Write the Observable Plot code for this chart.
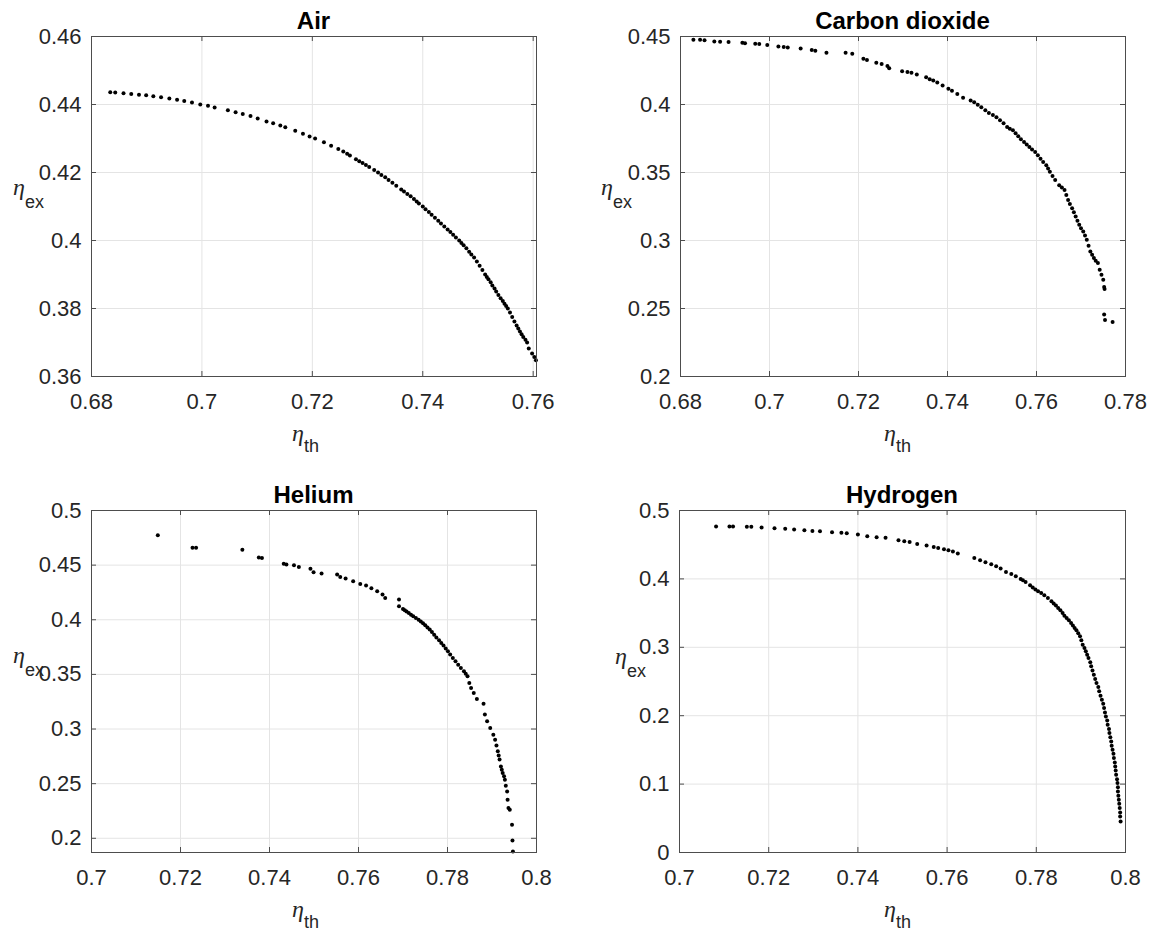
<!DOCTYPE html>
<html>
<head>
<meta charset="utf-8">
<script src="https://cdn.jsdelivr.net/npm/d3@7"></script>
<script src="https://cdn.jsdelivr.net/npm/@observablehq/plot@0.6"></script>
<style>
  body { margin: 0; background: #fff; }
  #root { position: relative; width: 1164px; height: 933px; overflow: hidden; background: #fff; }
  #root svg { position: absolute; }
</style>
</head>
<body>
<div id="root"></div>
<script>
// ---------- data (η_th, η_ex) ----------
const titles = ["Air", "Carbon dioxide", "Helium", "Hydrogen"];

const air = [[0.6834,0.4436],[0.6843,0.4435],[0.6858,0.4433],[0.6872,0.4431],[0.6886,0.4429],[0.6899,0.4427],[0.6912,0.4424],[0.6926,0.4421],[0.6941,0.4418],[0.6955,0.4414],[0.6968,0.4410],[0.6982,0.4406],[0.6997,0.4400],[0.7011,0.4396],[0.7023,0.4391],[0.7047,0.4383],[0.7061,0.4377],[0.7074,0.4372],[0.7088,0.4366],[0.7101,0.4359],[0.7117,0.4350],[0.7129,0.4345],[0.7142,0.4338],[0.7151,0.4333],[0.7169,0.4323],[0.7183,0.4314],[0.7195,0.4306],[0.7205,0.4300],[0.7221,0.4289],[0.7234,0.4279],[0.7247,0.4269],[0.7256,0.4262],[0.7268,0.4250],[0.7279,0.4239],[0.7291,0.4228],[0.7303,0.4216],[0.7312,0.4207],[0.7319,0.4200],[0.7332,0.4186],[0.7345,0.4170],[0.7361,0.4150],[0.7372,0.4137],[0.7384,0.4122],[0.7393,0.4109],[0.7400,0.4100],[0.7411,0.4084],[0.7422,0.4067],[0.7433,0.4050],[0.7445,0.4032],[0.7455,0.4017],[0.7466,0.4000],[0.7474,0.3986],[0.7484,0.3967],[0.7493,0.3950],[0.7503,0.3926],[0.7513,0.3900],[0.7519,0.3886],[0.7526,0.3868],[0.7533,0.3850],[0.7541,0.3830],[0.7548,0.3814],[0.7554,0.3800],[0.7562,0.3775],[0.7570,0.3750],[0.7576,0.3732],[0.7582,0.3716],[0.7589,0.3700],[0.7592,0.3682],[0.7598,0.3668],[0.7602,0.3657],[0.7605,0.3648],
  [0.7263,0.4255],[0.7285,0.4233],[0.7297,0.4222],[0.7325,0.4193],[0.7338,0.4178],[0.7352,0.4161],[0.7366,0.4144],[0.7378,0.4130],[0.7389,0.4115],[0.7405,0.4092],[0.7416,0.4076],[0.7428,0.4058],[0.7439,0.4041],[0.7450,0.4025],[0.7460,0.4009],[0.7470,0.3993],[0.7479,0.3977],[0.7488,0.3959],[0.7498,0.3938],[0.7508,0.3913],[0.7516,0.3893],[0.7523,0.3877],[0.7530,0.3859],[0.7537,0.3840],[0.7545,0.3822],[0.7551,0.3807],[0.7558,0.3788],[0.7566,0.3762],[0.7573,0.3741],[0.7579,0.3724],[0.7586,0.3708]];

const carbonDioxide = [[0.6829,0.4476],[0.6844,0.4476],[0.6854,0.4473],[0.6876,0.4463],[0.6889,0.4461],[0.6908,0.4459],[0.6939,0.4454],[0.6945,0.4451],[0.6968,0.4446],[0.6977,0.4444],[0.6995,0.4437],[0.7020,0.4427],[0.7032,0.4422],[0.7041,0.4420],[0.7070,0.4412],[0.7095,0.4400],[0.7103,0.4395],[0.7128,0.4380],[0.7171,0.4380],[0.7186,0.4373],[0.7211,0.4337],[0.7219,0.4327],[0.7240,0.4307],[0.7252,0.4298],[0.7265,0.4283],[0.7269,0.4266],[0.7298,0.4244],[0.7310,0.4239],[0.7319,0.4234],[0.7331,0.4220],[0.7352,0.4200],[0.7360,0.4185],[0.7368,0.4176],[0.7377,0.4161],[0.7389,0.4139],[0.7402,0.4115],[0.7410,0.4102],[0.7422,0.4078],[0.7435,0.4049],[0.7452,0.4029],[0.7460,0.4017],[0.7476,0.3980],[0.7493,0.3937],[0.7510,0.3907],[0.7526,0.3863],[0.7534,0.3834],[0.7547,0.3810],[0.7559,0.3766],[0.7572,0.3724],[0.7584,0.3688],[0.7597,0.3651],[0.7609,0.3602],[0.7622,0.3554],[0.7630,0.3505],[0.7642,0.3444],[0.7651,0.3407],[0.7663,0.3371],[0.7671,0.3298],[0.7680,0.3237],[0.7688,0.3176],[0.7696,0.3115],[0.7705,0.3066],[0.7713,0.3005],[0.7721,0.2920],[0.7729,0.2871],[0.7738,0.2834],[0.7742,0.2785],[0.7746,0.2749],[0.7750,0.2712],[0.7752,0.2659],[0.7753,0.2644],[0.7752,0.2456],[0.7754,0.2415],[0.7771,0.2400],
  [0.7468,0.3998],[0.7485,0.3958],[0.7502,0.3922],[0.7518,0.3885],[0.7540,0.3822],[0.7553,0.3788],[0.7565,0.3745],[0.7578,0.3706],[0.7590,0.3670],[0.7603,0.3627],[0.7615,0.3578],[0.7626,0.3530],[0.7636,0.3475],[0.7657,0.3389],[0.7667,0.3335],[0.7675,0.3268],[0.7684,0.3207],[0.7692,0.3146],[0.7700,0.3090],[0.7709,0.3036],[0.7717,0.2962],[0.7725,0.2895],[0.7733,0.2852]];

const helium = [[0.7149,0.4774],[0.7227,0.4658],[0.7235,0.4658],[0.7339,0.4640],[0.7376,0.4570],[0.7383,0.4566],[0.7432,0.4512],[0.7438,0.4505],[0.7455,0.4499],[0.7466,0.4484],[0.7492,0.4466],[0.7499,0.4435],[0.7517,0.4423],[0.7552,0.4414],[0.7559,0.4392],[0.7571,0.4377],[0.7588,0.4353],[0.7604,0.4328],[0.7617,0.4313],[0.7629,0.4289],[0.7642,0.4261],[0.7654,0.4231],[0.7660,0.4200],[0.7691,0.4185],[0.7691,0.4124],[0.7700,0.4099],[0.7708,0.4075],[0.7718,0.4047],[0.7729,0.4017],[0.7740,0.3983],[0.7750,0.3950],[0.7760,0.3910],[0.7770,0.3864],[0.7781,0.3812],[0.7791,0.3764],[0.7801,0.3712],[0.7812,0.3651],[0.7824,0.3589],[0.7837,0.3528],[0.7845,0.3483],[0.7849,0.3421],[0.7853,0.3376],[0.7859,0.3330],[0.7866,0.3275],[0.7881,0.3232],[0.7884,0.3132],[0.7889,0.3071],[0.7896,0.3010],[0.7903,0.2948],[0.7907,0.2903],[0.7913,0.2796],[0.7917,0.2720],[0.7920,0.2658],[0.7924,0.2598],[0.7929,0.2536],[0.7934,0.2429],[0.7935,0.2353],[0.7937,0.2277],[0.7940,0.2261],[0.7945,0.2124],[0.7946,0.1980],[0.7947,0.1880],
  [0.7704,0.4087],[0.7713,0.4061],[0.7723,0.4032],[0.7735,0.4000],[0.7745,0.3967],[0.7755,0.3930],[0.7765,0.3887],[0.7775,0.3838],[0.7786,0.3788],[0.7796,0.3738],[0.7806,0.3682],[0.7818,0.3620],[0.7830,0.3558],[0.7841,0.3505],[0.7910,0.2850],[0.7915,0.2758],[0.7922,0.2628],[0.7927,0.2567],[0.7931,0.2480]];

const hydrogen = [[0.7082,0.4766],[0.7112,0.4766],[0.7120,0.4766],[0.7151,0.4761],[0.7161,0.4761],[0.7184,0.4751],[0.7213,0.4741],[0.7237,0.4732],[0.7257,0.4722],[0.7280,0.4712],[0.7298,0.4702],[0.7315,0.4698],[0.7342,0.4683],[0.7363,0.4673],[0.7375,0.4668],[0.7400,0.4649],[0.7421,0.4624],[0.7442,0.4610],[0.7462,0.4600],[0.7491,0.4566],[0.7504,0.4551],[0.7516,0.4541],[0.7533,0.4512],[0.7554,0.4488],[0.7570,0.4468],[0.7580,0.4453],[0.7593,0.4434],[0.7603,0.4420],[0.7613,0.4400],[0.7624,0.4371],[0.7661,0.4307],[0.7674,0.4273],[0.7686,0.4244],[0.7699,0.4214],[0.7710,0.4185],[0.7720,0.4151],[0.7732,0.4102],[0.7744,0.4073],[0.7754,0.4039],[0.7765,0.4000],[0.7770,0.3980],[0.7776,0.3956],[0.7786,0.3907],[0.7792,0.3876],[0.7798,0.3844],[0.7804,0.3820],[0.7811,0.3795],[0.7818,0.3760],[0.7826,0.3722],[0.7834,0.3673],[0.7839,0.3642],[0.7844,0.3610],[0.7849,0.3576],[0.7854,0.3541],[0.7859,0.3502],[0.7863,0.3463],[0.7868,0.3430],[0.7873,0.3395],[0.7878,0.3356],[0.7882,0.3317],[0.7886,0.3283],[0.7890,0.3249],[0.7894,0.3205],[0.7898,0.3161],[0.7901,0.3102],[0.7904,0.3039],[0.7908,0.2990],[0.7911,0.2941],[0.7914,0.2892],[0.7917,0.2844],[0.7921,0.2780],[0.7923,0.2722],[0.7926,0.2662],[0.7929,0.2600],[0.7932,0.2536],[0.7935,0.2478],[0.7939,0.2419],[0.7941,0.2356],[0.7944,0.2292],[0.7947,0.2234],[0.7950,0.2174],[0.7952,0.2112],[0.7954,0.2048],[0.7956,0.1990],[0.7959,0.1930],[0.7960,0.1868],[0.7963,0.1804],[0.7964,0.1746],[0.7966,0.1686],[0.7968,0.1624],[0.7969,0.1560],[0.7971,0.1502],[0.7973,0.1442],[0.7974,0.1380],[0.7976,0.1316],[0.7977,0.1259],[0.7978,0.1199],[0.7979,0.1137],[0.7981,0.1072],[0.7982,0.1015],[0.7983,0.0955],[0.7983,0.0893],[0.7984,0.0828],[0.7985,0.0771],[0.7986,0.0711],[0.7987,0.0649],[0.7988,0.0584],[0.7988,0.0527],[0.7989,0.0454]];

// tick values
const airXTicks = [0.68, 0.7, 0.72, 0.74, 0.76];
const airYTicks = [0.36, 0.38, 0.4, 0.42, 0.44, 0.46];
const co2XTicks = [0.68, 0.7, 0.72, 0.74, 0.76, 0.78];
const co2YTicks = [0.2, 0.25, 0.3, 0.35, 0.4, 0.45];
const heXTicks = [0.7, 0.72, 0.74, 0.76, 0.78, 0.8];
const heYTicks = [0.2, 0.25, 0.3, 0.35, 0.4, 0.45, 0.5];
const h2XTicks = [0.7, 0.72, 0.74, 0.76, 0.78, 0.8];
const h2YTicks = [0, 0.1, 0.2, 0.3, 0.4, 0.5];

// ---------- layout ----------
const panels = [
  {title: titles[0], pts: air, xDomain: [0.68, 0.7606], yDomain: [0.36, 0.46], xTicks: airXTicks, yTicks: airYTicks,
   left: 0, top: 0, w: 582, h: 466, ml: 91, mr: 46, mt: 36, mb: 90,
   xl: [292, 441], yl: [13, 195]},
  {title: titles[1], pts: carbonDioxide, xDomain: [0.68, 0.78], yDomain: [0.2, 0.45], xTicks: co2XTicks, yTicks: co2YTicks,
   left: 582, top: 0, w: 582, h: 466, ml: 98, mr: 39, mt: 36, mb: 90,
   xl: [302, 441], yl: [19, 195]},
  {title: titles[2], pts: helium, xDomain: [0.7, 0.8], yDomain: [0.187, 0.5], xTicks: heXTicks, yTicks: heYTicks,
   left: 0, top: 466, w: 582, h: 467, ml: 91, mr: 46, mt: 44, mb: 81,
   xl: [292, 451], yl: [13, 197]},
  {title: titles[3], pts: hydrogen, xDomain: [0.7, 0.8], yDomain: [0, 0.5], xTicks: h2XTicks, yTicks: h2YTicks,
   left: 582, top: 466, w: 582, h: 467, ml: 97, mr: 39, mt: 44, mb: 81,
   xl: [302, 451], yl: [33, 198]}
];

const root = document.getElementById("root");
const axisColor = "#4d4d4d";
const gridColor = "#e4e4e4";
const fmt = d => String(d);

for (const p of panels) {
  const data = p.pts.map(([th, ex]) => ({th, ex}));
  const fw = p.w - p.ml - p.mr, fh = p.h - p.mt - p.mb;
  const svg = Plot.plot({
    width: p.w, height: p.h,
    marginLeft: p.ml, marginRight: p.mr, marginTop: p.mt, marginBottom: p.mb,
    x: {domain: p.xDomain},
    y: {domain: p.yDomain},
    style: {fontFamily: "'Liberation Sans', Arial, sans-serif", fontSize: "22px", color: "#262626", background: "white"},
    marks: [
      Plot.gridX(p.xTicks, {stroke: gridColor, strokeOpacity: 1}),
      Plot.gridY(p.yTicks, {stroke: gridColor, strokeOpacity: 1}),
      Plot.tickX(p.xTicks, {insetTop: fh - 5, stroke: axisColor}),
      Plot.tickX(p.xTicks, {insetBottom: fh - 5, stroke: axisColor}),
      Plot.tickY(p.yTicks, {insetRight: fw - 5, stroke: axisColor}),
      Plot.tickY(p.yTicks, {insetLeft: fw - 5, stroke: axisColor}),
      Plot.axisX(p.xTicks, {tickSize: 0, tickPadding: 17, label: null, tickFormat: fmt, fill: "#262626"}),
      Plot.axisY(p.yTicks, {tickSize: 0, tickPadding: 10, label: null, tickFormat: fmt, fill: "#262626"}),
      Plot.dot(data, {x: "th", y: "ex", r: 2, fill: "#000"}),
      Plot.frame({stroke: axisColor})
    ]
  });
  svg.style.left = p.left + "px";
  svg.style.top = p.top + "px";
  const s = d3.select(svg);
  // title
  s.append("text")
    .attr("x", p.ml + fw / 2).attr("y", p.mt - 7)
    .attr("text-anchor", "middle")
    .attr("font-family", "'Liberation Sans', Arial, sans-serif")
    .attr("font-weight", "bold").attr("font-size", 24).attr("fill", "#000")
    .text(p.title);
  // x label  η_th
  const xl = s.append("text").attr("x", p.xl[0]).attr("y", p.xl[1]).attr("fill", "#262626")
    .attr("text-anchor", "start")
    .attr("font-family", "'Liberation Sans', Arial, sans-serif");
  xl.append("tspan").attr("font-family", "'Liberation Serif', serif").attr("font-style", "italic").attr("font-size", 24).text("η");
  xl.append("tspan").attr("font-size", 18).attr("dy", 11).text("th");
  // y label  η_ex
  const yl = s.append("text").attr("x", p.yl[0]).attr("y", p.yl[1]).attr("fill", "#262626")
    .attr("text-anchor", "start")
    .attr("font-family", "'Liberation Sans', Arial, sans-serif");
  yl.append("tspan").attr("font-family", "'Liberation Serif', serif").attr("font-style", "italic").attr("font-size", 24).text("η");
  yl.append("tspan").attr("font-size", 18).attr("dy", 13).text("ex");
  root.appendChild(svg);
}
</script>
</body>
</html>
